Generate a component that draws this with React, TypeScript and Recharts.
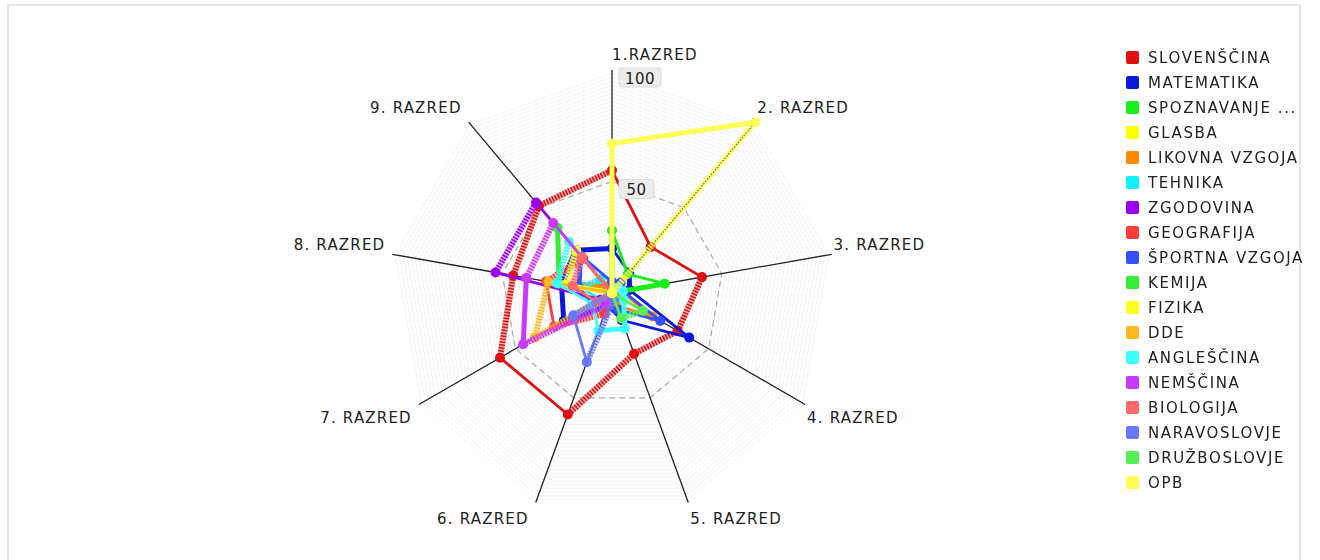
import React from 'react';
import { RadarChart, Radar, PolarGrid, PolarAngleAxis, PolarRadiusAxis } from 'recharts';

// ---------- data ----------
const GRADES = ['1.RAZRED', '2. RAZRED', '3. RAZRED', '4. RAZRED', '5. RAZRED', '6. RAZRED', '7. RAZRED', '8. RAZRED', '9. RAZRED'];

const SUBJECTS = [
  'SLOVENŠČINA', 'MATEMATIKA', 'SPOZNAVANJE ...', 'GLASBA', 'LIKOVNA VZGOJA', 'TEHNIKA',
  'ZGODOVINA', 'GEOGRAFIJA', 'ŠPORTNA VZGOJA', 'KEMIJA', 'FIZIKA', 'DDE',
  'ANGLEŠČINA', 'NEMŠČINA', 'BIOLOGIJA', 'NARAVOSLOVJE', 'DRUŽBOSLOVJE', 'OPB',
];

const SLOVENSCINA = [55, 27, 41, 34, 29, 58, 58, 45, 51];
const MATEMATIKA = [20, 12, 8, 40, 13, 6, 25, 23, 25];
const SPOZNAVANJE = [28, 11, 24, 0, 0, 0, 0, 0, 0];
const GLASBA = [4, 7, 4, 3, 3, 2, 2, 2, 3];
const LIKOVNA = [3, 4, 4, 21, 6, 3, 8, 29, 4];
const TEHNIKA = [0, 0, 0, 0, 0, 10, 6, 14, 8];
const ZGODOVINA = [0, 0, 0, 0, 0, 4, 6, 53, 53];
const GEOGRAFIJA = [0, 0, 0, 0, 0, 10, 30, 30, 20];
const SPORTNA = [5, 6, 5, 25, 8, 5, 10, 15, 22];
const KEMIJA = [0, 0, 0, 0, 0, 0, 0, 24, 38];
const FIZIKA = [0, 0, 0, 0, 0, 0, 0, 21, 25];
const DDE = [0, 0, 0, 0, 0, 0, 40, 29, 0];
const ANGLESCINA = [0, 3, 5, 6, 17, 18, 10, 25, 30];
const NEMSCINA = [0, 0, 0, 0, 0, 5, 46, 39, 41];
const BIOLOGIJA = [0, 0, 0, 0, 0, 0, 8, 18, 21];
const NARAVOSLOVJE = [0, 0, 0, 0, 3, 33, 20, 0, 0];
const DRUZBOSLOVJE = [0, 0, 0, 16, 12, 0, 0, 0, 0];
const OPB = [67, 100, 0, 0, 0, 0, 0, 0, 0];

const SERIES_VALUES = [
  SLOVENSCINA, MATEMATIKA, SPOZNAVANJE, GLASBA, LIKOVNA, TEHNIKA,
  ZGODOVINA, GEOGRAFIJA, SPORTNA, KEMIJA, FIZIKA, DDE,
  ANGLESCINA, NEMSCINA, BIOLOGIJA, NARAVOSLOVJE, DRUZBOSLOVJE, OPB,
];

// ---------- styles ----------
const COLORS = [
  '#e01010', '#0a18d8', '#18ee18', '#ffff00', '#ff8a00', '#10eeff',
  '#9a00f0', '#ff3c3c', '#3550ff', '#33ee33', '#ffff20', '#ffb820',
  '#40ffff', '#cc38ff', '#ff6868', '#6878ff', '#55ee55', '#ffff55',
];

const CX = 612;
const CY = 293;
const R = 223;
const FONT = '"DejaVu Sans", Verdana, sans-serif';

const data = GRADES.map((g, i) => {
  const row: Record<string, any> = { grade: g };
  SERIES_VALUES.forEach((vals, k) => {
    row['s' + k] = vals[i];
  });
  return row;
});

const gridRadii: number[] = [];
for (let r = 4; r <= R; r += 4) gridRadii.push(r);

function makeShape(color: string) {
  return (props: any) => {
    const pts = (props.points || []).filter((p: any) => Number.isFinite(p.x) && Number.isFinite(p.y));
    const n = pts.length;
    const segs: any[] = [];
    for (let i = 0; i < n; i++) {
      const a = pts[i];
      const b = pts[(i + 1) % n];
      let dx = b.x - a.x;
      let dy = b.y - a.y;
      const len = Math.hypot(dx, dy);
      if (len < 1) continue;
      if (dx < 0) { dx = -dx; dy = -dy; }
      const ang = (Math.atan2(dy, dx) * 180) / Math.PI;
      const key = 'e' + i;
      if (Math.abs(ang) < 10 || Math.abs(ang) > 84) {
        segs.push(
          <line key={key} x1={a.x} y1={a.y} x2={b.x} y2={b.y} stroke={color} strokeWidth={5} strokeLinecap="round" />
        );
      } else if (ang > 0) {
        segs.push(
          <line key={key} x1={a.x} y1={a.y} x2={b.x} y2={b.y} stroke={color} strokeWidth={2.8} strokeLinecap="round" />
        );
      } else {
        segs.push(
          <g key={key}>
            <line x1={a.x} y1={a.y} x2={b.x} y2={b.y} stroke={color} strokeOpacity={0.35} strokeWidth={6} />
            <line x1={a.x} y1={a.y} x2={b.x} y2={b.y} stroke={color} strokeWidth={6} strokeDasharray="1.5 1.5" />
          </g>
        );
      }
    }
    return (
      <g>
        {segs}
        {pts.map((p: any, i: number) => (
          <circle key={'d' + i} cx={p.x} cy={p.y} r={5} fill={color} />
        ))}
      </g>
    );
  };
}

const AngleTick = (props: any) => {
  const { payload, index } = props;
  const deg = payload && Number.isFinite(payload.coordinate) ? payload.coordinate : 90 - 40 * (index || 0);
  const t = (deg * Math.PI) / 180;
  const c = Math.cos(t);
  const s = Math.sin(t);
  const ex = CX + R * c;
  const ey = CY - R * s;
  const right = c > -0.01;
  const x = right ? ex + (c < 0.01 ? 0 : 2) : ex - 7;
  const yc = s > 0 ? ey - (9 + 7 * s) : ey + (10 + 6 * Math.abs(s));
  return (
    <text x={x} y={yc + 5.5} textAnchor={right ? 'start' : 'end'} fontSize={15} fill="#222" letterSpacing={1.2} fontFamily={FONT}>
      {payload.value}
    </text>
  );
};

const RadiusTick = (props: any) => {
  const { x, y, payload } = props;
  if (!payload || payload.value === 0) return null;
  const label = String(payload.value);
  const w = label.length >= 3 ? 42 : 35;
  return (
    <g>
      <rect x={x + 7} y={y - 2} width={w} height={19} rx={3} fill="#ececec" stroke="#dcdcdc" />
      <text x={x + 7 + w / 2} y={y + 13.5} textAnchor="middle" fontSize={15} fill="#222" letterSpacing={0.5} fontFamily={FONT}>
        {label}
      </text>
    </g>
  );
};

export default function App() {
  return (
    <div>
      <div
        style={{
          position: 'fixed', left: 7, top: 4, width: 1294, height: 600,
          boxSizing: 'border-box', border: '2px solid #e6e6e6', background: '#fff',
        }}
      />
      <div style={{ position: 'fixed', left: 0, top: 0, width: 1320, height: 560, fontFamily: FONT }}>
        <RadarChart width={1320} height={560} data={data} cx={CX} cy={CY} outerRadius={R} margin={{ top: 0, right: 0, bottom: 0, left: 0 }}>
          <PolarGrid gridType="polygon" radialLines={false} polarRadius={gridRadii} stroke="#f4f4f4" strokeWidth={1} />
          <PolarGrid gridType="polygon" radialLines={false} polarRadius={[R / 2]} stroke="#a8a8a8" strokeDasharray="6 4" strokeWidth={1.2} />
          <PolarGrid gridType="polygon" radialLines={true} polarRadius={[0.1]} stroke="#222" strokeWidth={1.3} />
          <PolarAngleAxis dataKey="grade" tick={<AngleTick />} axisLine={false} tickLine={false} />
          <PolarRadiusAxis angle={90} domain={[0, 100]} tickCount={3} tick={<RadiusTick />} axisLine={false} tickLine={false} />
          {SUBJECTS.map((name, k) => (
            <Radar
              key={name}
              name={name}
              dataKey={'s' + k}
              stroke={COLORS[k]}
              fill="none"
              dot={false}
              isAnimationActive={false}
              shape={makeShape(COLORS[k])}
            />
          ))}
        </RadarChart>
      </div>
      <div style={{ position: 'fixed', left: 0, top: 0, width: 1320, height: 560, pointerEvents: 'none', fontFamily: FONT }}>
        {SUBJECTS.map((name, k) => {
          const yc = 57.5 + 25 * k;
          return (
            <div key={name}>
              <div
                style={{
                  position: 'absolute', left: 1126, top: yc - 6.5, width: 13, height: 13,
                  background: COLORS[k], borderRadius: 2,
                }}
              />
              <div
                style={{
                  position: 'absolute', left: 1148, top: yc - 10, height: 20, lineHeight: '20px',
                  fontSize: 15, letterSpacing: 1.6, color: '#222', whiteSpace: 'nowrap',
                }}
              >
                {name}
              </div>
            </div>
          );
        })}
      </div>
    </div>
  );
}
